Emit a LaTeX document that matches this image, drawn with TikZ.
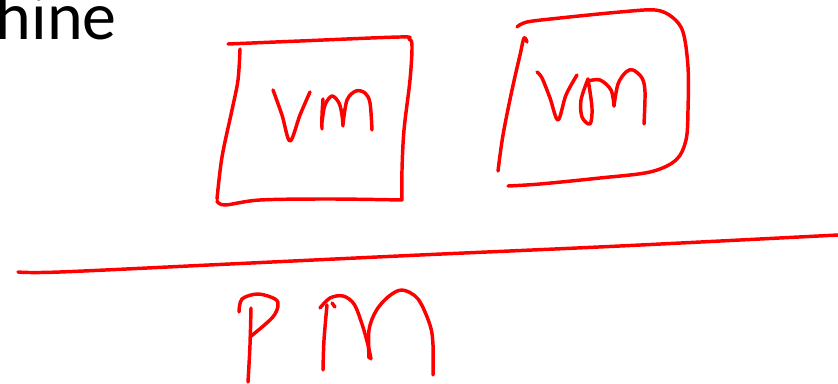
\documentclass[tikz,border=0pt]{standalone}
\usepackage{fontspec}
\setmainfont{Carlito}
\tikzset{
  ink/.style={draw=inkred, line width=2.6pt, line cap=round, line join=round},
  sm/.style={smooth, tension=0.55}
}
\definecolor{inkred}{RGB}{255,0,0}
\begin{document}
\begin{tikzpicture}[x=0.75pt,y=-0.75pt]
\useasboundingbox (0,0) rectangle (838,384);
\clip (0,0) rectangle (838,384);
% title fragment
\node[anchor=base west, inner sep=0pt, font=\fontsize{51}{51}\selectfont] (title) at (-4.5,40) {hine};
% left VM box
\draw[ink] plot[sm] coordinates {(228,44) (300,41) (400,37) (409,39) (412,46) (410,80) (404,130) (402,170) (402,200)};
\draw[ink] plot[sm] coordinates {(402,200) (330,199) (260,200) (225,205) (217,201)};
\draw[ink] plot[sm] coordinates {(240,49) (238,80) (232,110) (222,157) (217,199)};
% vm text left
\draw[ink] plot[sm] coordinates {(273,90) (282,115) (290,141) (300,115) (310,92)};
\draw[ink] plot[sm] coordinates {(323,99) (322,115) (322,129)};
\draw[ink] plot[sm] coordinates {(322,122) (325,105) (332,96) (339,103) (342,115) (343,126)};
\draw[ink] plot[sm] coordinates {(343,124) (347,100) (356,91) (365,93) (370,103) (372,130)};
% right VM box
\draw[ink] plot[sm] coordinates {(517,27) (527,22) (560,18) (620,12) (655,10) (672,17) (683,32) (688,67) (688,110) (686,140) (676,160) (650,172) (600,178) (540,184) (508,186)};
\draw[ink] plot[sm] coordinates {(527,42) (524,38) (520,55) (512,90) (503,135) (498,171)};
% vm text right
\draw[ink] plot[sm] coordinates {(537,72) (542,78) (550,98) (558,120) (566,95) (577,75)};
\draw[ink] plot[sm] coordinates {(588,79) (581,100) (582,117) (590,124) (592,108) (588,79)};
\draw[ink] plot[sm] coordinates {(588,81) (600,80) (611,90) (614,106)};
\draw[ink] plot[sm] coordinates {(614,106) (618,84) (626,72) (633,70) (642,78) (645,92) (644,124)};
% separator line
\draw[ink] plot[sm] coordinates {(18,272) (60,272) (230,264) (420,255) (620,246) (838,235)};
% PM
\draw[ink] plot[sm] coordinates {(251,308) (250,345) (248,382)};
\draw[ink] plot[sm] coordinates {(239,312) (242,299) (258,294) (275,299) (278,306) (272,318) (250,337)};
\draw[ink] plot[sm] coordinates {(323,370) (324,340) (327,305)};
\draw[ink] plot[sm] coordinates {(320,308) (330,298) (343,296) (354,304) (362,324) (368,345) (371,359)};
\draw[ink] (332,303) -- (335,307);
\draw[ink] plot[sm] coordinates {(369,358) (369,330) (376,311) (388,297) (402,290) (418,299) (430,325) (433,345) (433,375)};
\end{tikzpicture}
\end{document}
